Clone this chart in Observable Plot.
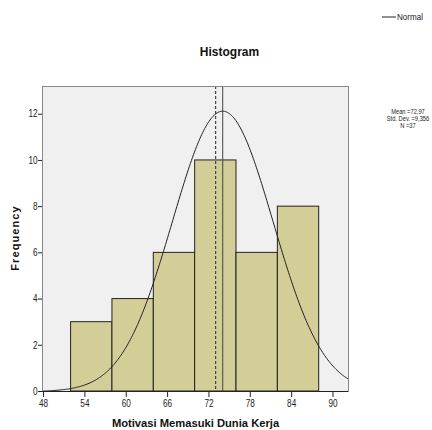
<!DOCTYPE html>
<html><head><meta charset="utf-8">
<script src="https://cdn.jsdelivr.net/npm/d3@7"></script>
<script src="https://cdn.jsdelivr.net/npm/@observablehq/plot@0.6"></script>
<style>
body{margin:0;background:#fff}
#chart{position:relative;width:432px;height:430px}
</style></head><body><div id="chart"></div>
<script>
// Histogram bins
const binStarts = [52, 58, 64, 70, 76, 82];
const binEnds   = [58, 64, 70, 76, 82, 88];
const frequencies = [3, 4, 6, 10, 6, 8];
const xTicks = [48, 54, 60, 66, 72, 78, 84, 90];
const yTicks = [0, 2, 4, 6, 8, 10, 12];
const statMean = 72.97;
const statN = 37;
const statLabels = ["Mean =72,97", "Std. Dev. =9,356", "N =37"];
// Normal curve as drawn (centre and spread)
const curveCenter = 74;
const curveSpread = 7.3;
const binWidth = 6;
const solidLineX = 74;

const SANS = "'Liberation Sans',Arial,sans-serif";

const bins = binStarts.map((s, i) => ({x1: s, x2: binEnds[i], y: frequencies[i]}));
const xDomain = [47.85, 92.25];
const curve = d3.range(xDomain[0], xDomain[1] + 0.01, 0.15).map(x => ({
  x,
  y: statN * binWidth / (curveSpread * Math.sqrt(2 * Math.PI)) *
     Math.exp(-((x - curveCenter) ** 2) / (2 * curveSpread ** 2))
}));

const svg = Plot.plot({
  width: 432, height: 430,
  marginLeft: 42, marginRight: 84, marginTop: 86, marginBottom: 39,
  x: {domain: xDomain},
  y: {domain: [0, 13.2]},
  style: {fontFamily: SANS, fontSize: "10px", color: "#222", background: "transparent"},
  marks: [
    Plot.frame({fill: "#f0f0f0", stroke: null}),
    Plot.rectY(bins, {x1: "x1", x2: "x2", y: "y", fill: "#d3ce97", stroke: "#222", strokeWidth: 1}),
    Plot.ruleX([statMean], {stroke: "#444", strokeWidth: 1.2, strokeDasharray: "3,2"}),
    Plot.ruleX([solidLineX], {stroke: "#444", strokeWidth: 1}),
    Plot.line(curve, {x: "x", y: "y", stroke: "#222", strokeWidth: 1, curve: "natural"}),
    Plot.frame({stroke: "#888", strokeWidth: 1}),
    Plot.ruleY([0], {stroke: "#222", strokeWidth: 1}),
    Plot.axisX({ticks: xTicks, tickSize: 6, tickPadding: 2, label: null, stroke: "#222"}),
    Plot.axisY({ticks: yTicks, tickSize: 4, tickPadding: 1, label: null, stroke: "#222"})
  ]
});
document.getElementById("chart").appendChild(svg);

// Condense axis tick labels horizontally (narrow look of the original)
const SX = 0.82;
d3.select(svg).selectAll('g[aria-label="x-axis tick label"] text, g[aria-label="y-axis tick label"] text')
  .each(function() {
    const el = this;
    const x = parseFloat(el.getAttribute("x")) || 0;
    const t = el.getAttribute("transform") || "";
    el.setAttribute("transform", `${t} translate(${x * (1 - SX)},0) scale(${SX},1)`);
  });

const s = d3.select(svg);
function narrowText(x, y, txt, size, anchor, sx) {
  s.append("text").attr("transform", `translate(${x},${y}) scale(${sx},1)`)
    .attr("text-anchor", anchor).attr("font-family", SANS)
    .attr("font-size", size).attr("fill", "#222").text(txt);
}
// Title
s.append("text").attr("x", 229.5).attr("y", 56).attr("text-anchor", "middle")
  .attr("font-family", SANS).attr("font-weight", "bold").attr("font-size", 12)
  .attr("fill", "#111").text("Histogram");
// Legend
s.append("line").attr("x1", 382).attr("x2", 396).attr("y1", 17).attr("y2", 17)
  .attr("stroke", "#222").attr("stroke-width", 1);
narrowText(397, 20, "Normal", 9.5, "start", 0.85);
// Stats
statLabels.forEach((t, i) => narrowText(408, 113.5 + i * 7, t, 7, "middle", 0.82));
// Axis labels
s.append("text").attr("x", 195.5).attr("y", 427).attr("text-anchor", "middle")
  .attr("font-family", SANS).attr("font-weight", "bold").attr("font-size", 11.2)
  .attr("fill", "#111").text("Motivasi Memasuki Dunia Kerja");
s.append("text").attr("transform", "translate(19,238) rotate(-90)").attr("text-anchor", "middle")
  .attr("font-family", SANS).attr("font-weight", "bold").attr("font-size", 11)
  .attr("letter-spacing", 1.1).attr("fill", "#111").text("Frequency");
</script></body></html>
